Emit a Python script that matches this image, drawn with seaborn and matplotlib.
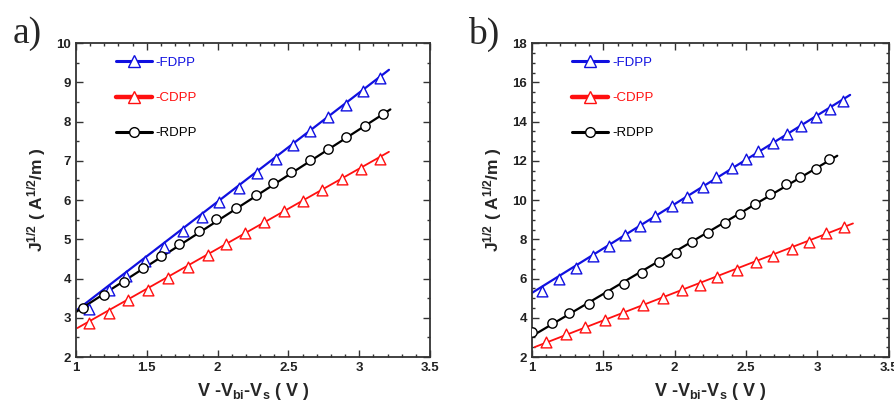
import numpy as np
import pandas as pd
import matplotlib
matplotlib.use('Agg')
import matplotlib.pyplot as plt
from matplotlib.lines import Line2D
from matplotlib.ticker import MultipleLocator
import seaborn as sns

# panel a) measured points
a_fdpp_x = [1.09, 1.23, 1.35, 1.49, 1.62, 1.755, 1.89, 2.01, 2.15, 2.28, 2.41, 2.53, 2.65, 2.78, 2.91, 3.03, 3.15]
a_fdpp_y = [3.23, 3.70, 4.06, 4.45, 4.81, 5.22, 5.57, 5.96, 6.31, 6.68, 7.04, 7.40, 7.77, 8.11, 8.43, 8.77, 9.11]
a_cdpp_x = [1.09, 1.23, 1.37, 1.51, 1.65, 1.79, 1.93, 2.06, 2.19, 2.33, 2.47, 2.60, 2.74, 2.88, 3.01, 3.15]
a_cdpp_y = [2.87, 3.13, 3.45, 3.72, 4.02, 4.30, 4.60, 4.88, 5.17, 5.45, 5.72, 5.97, 6.26, 6.54, 6.78, 7.04]
a_rdpp_x = [1.05, 1.20, 1.34, 1.47, 1.60, 1.73, 1.87, 1.99, 2.13, 2.27, 2.39, 2.52, 2.65, 2.78, 2.91, 3.04, 3.17]
a_rdpp_y = [3.26, 3.57, 3.91, 4.26, 4.57, 4.89, 5.21, 5.51, 5.80, 6.14, 6.44, 6.71, 7.02, 7.29, 7.60, 7.89, 8.19]
# panel a) fitted lines (end points)
a_fdpp_fit_x = [1.0, 3.21]
a_fdpp_fit_y = [3.18, 9.32]
a_cdpp_fit_x = [1.01, 3.21]
a_cdpp_fit_y = [2.74, 7.23]
a_rdpp_fit_x = [1.0, 3.22]
a_rdpp_fit_y = [3.15, 8.31]

# panel b) measured points
b_fdpp_x = [1.07, 1.19, 1.31, 1.43, 1.54, 1.65, 1.755, 1.865, 1.985, 2.09, 2.20, 2.29, 2.40, 2.50, 2.585, 2.69, 2.785, 2.885, 2.99, 3.09, 3.18]
b_fdpp_y = [5.37, 6.00, 6.56, 7.14, 7.65, 8.20, 8.67, 9.18, 9.71, 10.17, 10.68, 11.16, 11.62, 12.08, 12.50, 12.93, 13.37, 13.78, 14.22, 14.63, 15.06]
b_cdpp_x = [1.10, 1.24, 1.37, 1.51, 1.64, 1.78, 1.92, 2.05, 2.18, 2.30, 2.44, 2.57, 2.69, 2.82, 2.94, 3.06, 3.19]
b_cdpp_y = [2.77, 3.19, 3.53, 3.91, 4.25, 4.64, 5.01, 5.40, 5.69, 6.09, 6.43, 6.82, 7.16, 7.53, 7.87, 8.30, 8.64]
b_rdpp_x = [1.0, 1.14, 1.26, 1.40, 1.53, 1.645, 1.77, 1.89, 2.01, 2.125, 2.235, 2.35, 2.46, 2.56, 2.67, 2.78, 2.88, 2.99, 3.08]
b_rdpp_y = [3.28, 3.75, 4.25, 4.72, 5.23, 5.74, 6.26, 6.82, 7.31, 7.84, 8.33, 8.84, 9.27, 9.80, 10.29, 10.80, 11.16, 11.58, 12.09]
# panel b) fitted lines (end points)
b_fdpp_fit_x = [1.0, 3.23]
b_fdpp_fit_y = [5.27, 15.36]
b_cdpp_fit_x = [1.02, 3.25]
b_cdpp_fit_y = [2.51, 8.81]
b_rdpp_fit_x = [1.01, 3.14]
b_rdpp_fit_y = [3.11, 12.26]

series_names = ['-FDPP', '-CDPP', '-RDPP']
colors = ['#1010e0', '#ff1010', '#000000']
markers = ['^', '^', 'o']
fit_lw = [1.6, 1.3, 1.6]
legend_lw = [2.2, 3.2, 2.2]

sns.set_style('ticks')
plt.rcParams['font.family'] = ['Liberation Sans', 'DejaVu Sans']
plt.rcParams['mathtext.fontset'] = 'custom'
plt.rcParams['mathtext.rm'] = 'Liberation Sans:bold'
plt.rcParams['mathtext.bf'] = 'Liberation Sans:bold'
plt.rcParams['mathtext.it'] = 'Liberation Sans:bold'

fig = plt.figure(figsize=(8.94, 4.03), dpi=100)
ax_a = fig.add_axes([0.085, 0.114, 0.396, 0.779])
ax_b = fig.add_axes([0.595, 0.114, 0.399, 0.779])

panels = [
    (ax_a, 'a)', [(a_fdpp_x, a_fdpp_y, a_fdpp_fit_x, a_fdpp_fit_y),
                  (a_cdpp_x, a_cdpp_y, a_cdpp_fit_x, a_cdpp_fit_y),
                  (a_rdpp_x, a_rdpp_y, a_rdpp_fit_x, a_rdpp_fit_y)],
     (2, 10), 1, 0.5),
    (ax_b, 'b)', [(b_fdpp_x, b_fdpp_y, b_fdpp_fit_x, b_fdpp_fit_y),
                  (b_cdpp_x, b_cdpp_y, b_cdpp_fit_x, b_cdpp_fit_y),
                  (b_rdpp_x, b_rdpp_y, b_rdpp_fit_x, b_rdpp_fit_y)],
     (2, 18), 2, 0.5),
]

tick_color = '#222222'
for ax, tag, data, ylim, ymaj, ymin in panels:
    for i, (px, py, fx, fy) in enumerate(data):
        sns.lineplot(x=fx, y=fy, ax=ax, color=colors[i], lw=fit_lw[i], zorder=2)
        sns.scatterplot(x=px, y=py, ax=ax, marker=markers[i], s=60 if markers[i] == '^' else 45,
                        facecolor='white', edgecolor=colors[i], linewidth=1.0, zorder=3)
    ax.set_xlim(1, 3.5)
    ax.set_ylim(*ylim)
    ax.xaxis.set_major_locator(MultipleLocator(0.5))
    ax.xaxis.set_minor_locator(MultipleLocator(0.1))
    ax.yaxis.set_major_locator(MultipleLocator(ymaj))
    ax.yaxis.set_minor_locator(MultipleLocator(ymin))
    ax.set_xticks([1, 1.5, 2, 2.5, 3, 3.5])
    ax.set_xticklabels(['1', '1.5', '2', '2.5', '3', '3.5'])
    ax.tick_params(which='both', direction='in', top=True, right=True, colors='#333333',
                   labelcolor=tick_color, width=1.0)
    ax.tick_params(which='major', length=5, labelsize=9.5)
    ax.tick_params(which='minor', length=2.5)
    for lab in ax.get_xticklabels() + ax.get_yticklabels():
        lab.set_fontweight('bold')
    for sp in ax.spines.values():
        sp.set_linewidth(1.3)
        sp.set_color('#333333')
    ax.set_xlabel(r'V -V$_{bi}$-V$_s$ ( V )', fontsize=13, fontweight='bold', labelpad=5)
    ax.set_ylabel(r'J$^{1/2}$ ( A$^{1/2}$/m )', fontsize=12.5, fontweight='bold', labelpad=6)
    handles = [Line2D([], [], color=colors[i], lw=legend_lw[i], marker=markers[i],
                      markersize=8 if markers[i] == '^' else 7, markerfacecolor='white',
                      markeredgecolor=colors[i], markeredgewidth=1.0) for i in range(3)]
    ax.legend(handles, series_names, loc='upper left', bbox_to_anchor=(0.08, 0.995),
              frameon=False, handlelength=2.7, handletextpad=0.3, labelspacing=1.75,
              fontsize=9.5, labelcolor=colors, numpoints=1)
    ax.text(-0.18, 1.085, tag, transform=ax.transAxes, fontsize=27,
            family=['Liberation Serif'], va='top', ha='left')

fig.savefig('out.png', dpi=100)
